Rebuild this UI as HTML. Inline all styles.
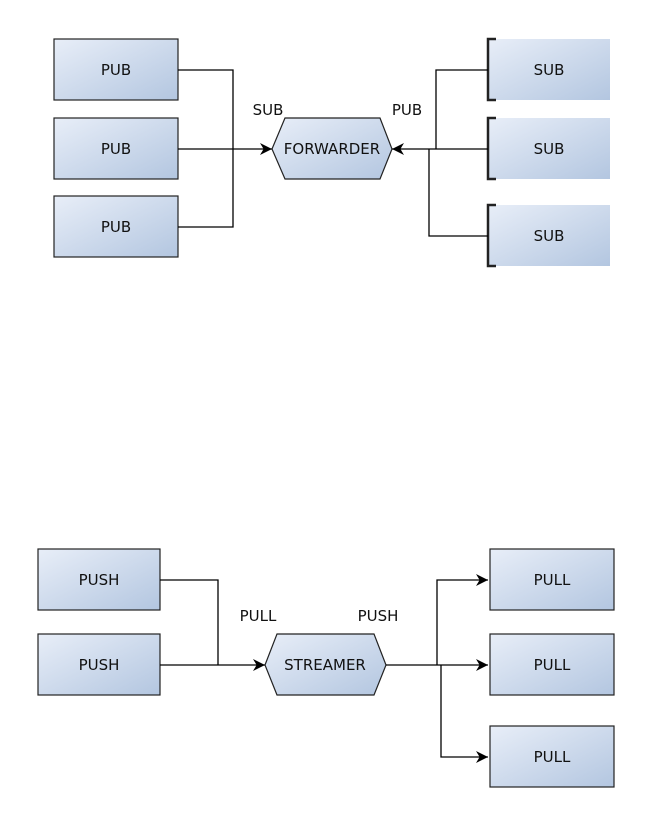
<!DOCTYPE html><html><head><style>body{margin:0;background:#fff}</style></head><body>
<svg width="662" height="828" xmlns="http://www.w3.org/2000/svg" font-family="DejaVu Sans, sans-serif" font-size="15">
<defs>
<linearGradient id="g" x1="0" y1="0" x2="1" y2="1"><stop offset="0" stop-color="#e8eef8"/><stop offset="1" stop-color="#b3c6e0"/></linearGradient>
<marker id="a" viewBox="0 0 10 10" refX="10" refY="5" markerWidth="14" markerHeight="12" markerUnits="userSpaceOnUse" orient="auto"><path d="M0,0L10,5L0,10L3,5z" fill="#000"/></marker>
</defs>
<g stroke="#222" stroke-width="1.2" fill="url(#g)">
<rect x="54" y="39" width="124" height="61"/><rect x="54" y="118" width="124" height="61"/><rect x="54" y="196" width="124" height="61"/>
<polygon points="272,149 285,118 380,118 392,149 380,179 285,179"/>
<rect x="38" y="549" width="122" height="61"/><rect x="38" y="634" width="122" height="61"/>
<polygon points="265,665 277,634 374,634 386,665 374,695 277,695"/>
<rect x="490" y="549" width="124" height="61"/><rect x="490" y="634" width="124" height="61"/><rect x="490" y="726" width="124" height="61"/>
</g>
<g fill="url(#g)"><rect x="488" y="39" width="122" height="61"/><rect x="488" y="118" width="122" height="61"/><rect x="488" y="205" width="122" height="61"/></g>
<g stroke="#222" stroke-width="2.5" fill="none">
<path d="M496,39H488V100H496"/><path d="M496,118H488V179H496"/><path d="M496,205H488V266H496"/>
</g>
<g stroke="#000" stroke-width="1.3" fill="none">
<path d="M178,70H233V227H178"/><path d="M178,149H272" marker-end="url(#a)"/>
<path d="M488,70H436V149"/><path d="M488,149H392" marker-end="url(#a)"/><path d="M429,149V236H488"/>
<path d="M160,580H218V665"/><path d="M160,665H265" marker-end="url(#a)"/>
<path d="M386,665H488" marker-end="url(#a)"/>
<path d="M437,665V580H488" marker-end="url(#a)"/><path d="M441,665V757H488" marker-end="url(#a)"/>
</g>
<g fill="#111" text-anchor="middle">
<text x="116" y="75">PUB</text><text x="116" y="154">PUB</text><text x="116" y="232">PUB</text>
<text x="332" y="154">FORWARDER</text>
<text x="268" y="115">SUB</text><text x="407" y="115">PUB</text>
<text x="549" y="75">SUB</text><text x="549" y="154">SUB</text><text x="549" y="241">SUB</text>
<text x="99" y="585">PUSH</text><text x="99" y="670">PUSH</text>
<text x="325" y="670">STREAMER</text>
<text x="258" y="621">PULL</text><text x="378" y="621">PUSH</text>
<text x="552" y="585">PULL</text><text x="552" y="670">PULL</text><text x="552" y="762">PULL</text>
</g>
</svg>
</body></html>
